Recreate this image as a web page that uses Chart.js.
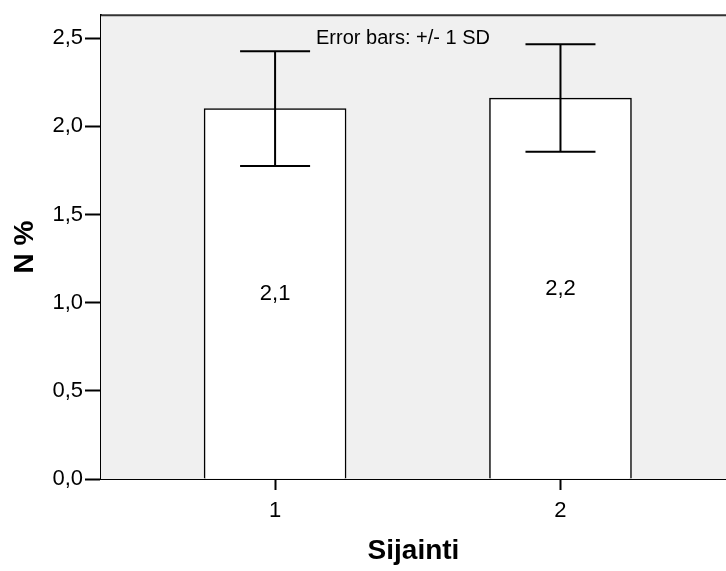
<!DOCTYPE html>
<html>
<head>
<meta charset="utf-8">
<script src="https://cdn.jsdelivr.net/npm/chart.js@4.4.1/dist/chart.umd.min.js"></script>
<style>
  html, body { margin: 0; padding: 0; background: #fff; }
  #wrap { width: 726px; height: 571px; }
</style>
</head>
<body>
<div id="wrap"><canvas id="sijaintiChart" width="726" height="571"></canvas></div>
<script>
// Keskiarvot ja keskihajonnat sijainnin mukaan
const sijainnit = [1, 2];
const keskiarvot = [2.10, 2.16];
const keskihajonnat = [0.325, 0.305];
const yTicks = [0, 0.5, 1.0, 1.5, 2.0, 2.5];

const FONT = '"Liberation Sans", Arial, sans-serif';
const fmt = v => v.toFixed(1).replace('.', ',');

// harmaa tausta ja yläreuna
const taustaPlugin = {
    id: 'tausta',
    beforeDatasetsDraw(chart) {
        const { ctx, chartArea: a } = chart;
        ctx.save();
        ctx.fillStyle = '#f0f0f0';
        ctx.fillRect(a.left, a.top, a.right - a.left, a.bottom - a.top);
        ctx.strokeStyle = '#333';
        ctx.lineWidth = 2;
        ctx.beginPath();
        ctx.moveTo(a.left, a.top);
        ctx.lineTo(a.right, a.top);
        ctx.stroke();
        ctx.restore();
    }
};

// virhepalkit (+/- 1 SD), arvot palkkien keskelle ja selite
const virhePlugin = {
    id: 'virhe',
    afterDatasetsDraw(chart) {
        const { ctx, chartArea: a, scales: { x, y } } = chart;
        ctx.save();
        ctx.strokeStyle = '#000';
        ctx.lineWidth = 2;
        sijainnit.forEach((s, i) => {
            const px = x.getPixelForValue(s);
            const yl = y.getPixelForValue(keskiarvot[i] + keskihajonnat[i]);
            const ya = y.getPixelForValue(keskiarvot[i] - keskihajonnat[i]);
            ctx.beginPath();
            ctx.moveTo(px, yl);
            ctx.lineTo(px, ya);
            ctx.moveTo(px - 35, yl);
            ctx.lineTo(px + 35, yl);
            ctx.moveTo(px - 35, ya);
            ctx.lineTo(px + 35, ya);
            ctx.stroke();

            ctx.fillStyle = '#000';
            ctx.font = '22px ' + FONT;
            ctx.textAlign = 'center';
            ctx.textBaseline = 'middle';
            ctx.fillText(fmt(keskiarvot[i]), px, y.getPixelForValue(keskiarvot[i] / 2));
        });
        ctx.font = '20px ' + FONT;
        ctx.textAlign = 'center';
        ctx.textBaseline = 'alphabetic';
        ctx.fillText('Error bars: +/- 1 SD', a.left + 302, a.top + 29);
        ctx.restore();
    }
};

const ctx = document.getElementById('sijaintiChart').getContext('2d');
new Chart(ctx, {
    type: 'bar',
    data: {
        datasets: [{
            data: sijainnit.map((s, i) => ({ x: s, y: keskiarvot[i] })),
            backgroundColor: '#ffffff',
            borderColor: '#000000',
            borderWidth: 1.5,
            borderSkipped: 'bottom',
            barThickness: 142
        }]
    },
    options: {
        responsive: false,
        animation: false,
        events: [],
        layout: { padding: { top: 12, left: 0, right: 0, bottom: 0 } },
        plugins: {
            legend: { display: false },
            tooltip: { enabled: false }
        },
        scales: {
            x: {
                type: 'linear',
                offset: false,
                min: 0.39,
                max: 2.58,
                afterBuildTicks: scale => { scale.ticks = sijainnit.map(v => ({ value: v })); },
                afterFit: scale => { scale.height = 92; },
                ticks: {
                    color: '#000',
                    font: { family: FONT, size: 22 },
                    padding: 8,
                    callback: v => String(v)
                },
                grid: {
                    offset: false,
                    drawOnChartArea: false,
                    drawTicks: true,
                    tickLength: 11,
                    tickWidth: 2,
                    tickColor: '#000'
                },
                border: { color: '#000', width: 2 },
                title: {
                    display: true,
                    text: 'Sijainti',
                    color: '#000',
                    font: { family: FONT, size: 28, weight: 'bold' },
                    padding: { top: 0, bottom: 3 }
                }
            },
            y: {
                min: 0,
                max: 2.63,
                afterBuildTicks: scale => { scale.ticks = yTicks.map(v => ({ value: v })); },
                afterFit: scale => { scale.width = 101; },
                ticks: {
                    color: '#000',
                    font: { family: FONT, size: 22 },
                    padding: 2,
                    callback: v => fmt(v)
                },
                grid: {
                    drawOnChartArea: false,
                    drawTicks: true,
                    tickLength: 16,
                    tickWidth: 2,
                    tickColor: '#000'
                },
                border: { color: '#000', width: 2 },
                title: {
                    display: true,
                    text: 'N %',
                    color: '#000',
                    font: { family: FONT, size: 28, weight: 'bold' },
                    padding: { top: 8, bottom: 0 }
                }
            }
        }
    },
    plugins: [taustaPlugin, virhePlugin]
});
</script>
</body>
</html>
